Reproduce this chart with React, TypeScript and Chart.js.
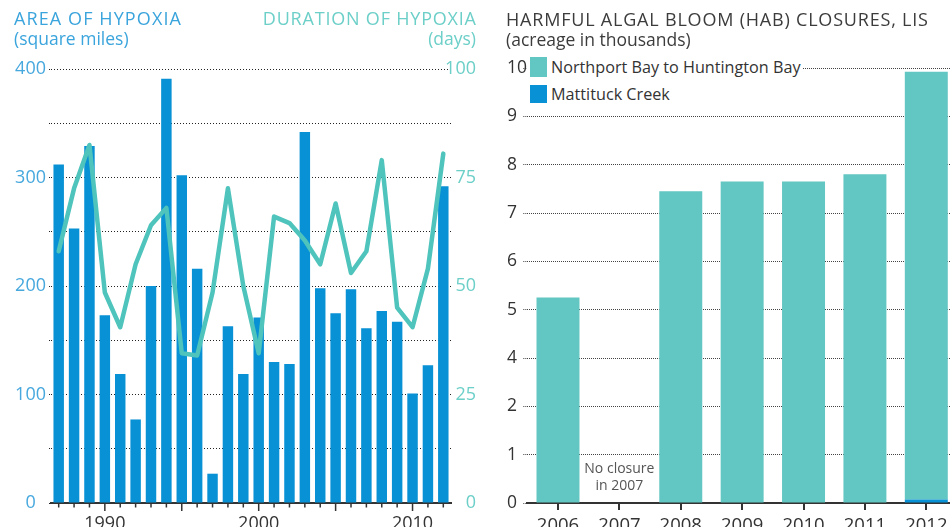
import React, { useEffect, useRef } from 'react';
import { Chart, registerables } from 'chart.js';

Chart.register(...registerables);

const FONT = '"Open Sans", sans-serif';

// ---- Left chart: hypoxia in Long Island Sound ----
const hypoxiaYears = [
  '1987', '1988', '1989', '1990', '1991', '1992', '1993', '1994', '1995', '1996',
  '1997', '1998', '1999', '2000', '2001', '2002', '2003', '2004', '2005', '2006',
  '2007', '2008', '2009', '2010', '2011', '2012',
];
// Area of hypoxia (square miles)
const hypoxiaArea = [
  312, 253, 329, 173, 119, 77, 200, 391, 302, 216,
  27, 163, 119, 171, 130, 128, 342, 198, 175, 197,
  161, 177, 167, 101, 127, 292,
];
// Duration of hypoxia (days)
const hypoxiaDuration = [
  58, 72.5, 82.5, 48.5, 40.5, 55, 64, 68, 34.5, 34,
  48.5, 72.5, 50, 34.5, 66, 64.5, 60.5, 55, 69, 53,
  58, 79, 45, 40.5, 54, 80.5,
];
const labelledYears = ['1990', '2000', '2010'];

// ---- Right chart: HAB closures (acreage in thousands) ----
const habYears = ['2006', '2007', '2008', '2009', '2010', '2011', '2012'];
const northportBay = [5.25, 0, 7.45, 7.65, 7.65, 7.8, 9.85];
const mattituckCreek = [0, 0, 0, 0, 0, 0, 0.07];
// tick labels as printed on the original axis (evenly spaced)
const habTickLabels = ['0', '1', '2', '4', '5', '6', '7', '8', '9', '10'];

const BLUE = '#0891d4';
const TEAL_LINE = '#4fc4bc';
const TEAL_BAR = '#62c6c2';
const AXIS_BLUE = '#47a8de';
const AXIS_TEAL = '#6ccfc8';
const DARK = '#333333';

// map a value in printed-label units to an evenly spaced axis position
const habTickNums = habTickLabels.map(Number);
function toAxisPos(v: number): number {
  for (let i = 0; i < habTickNums.length - 1; i++) {
    const a = habTickNums[i];
    const b = habTickNums[i + 1];
    if (v <= b) return i + (v - a) / (b - a);
  }
  return habTickNums.length - 1;
}

export default function App() {
  const leftRef = useRef<HTMLCanvasElement | null>(null);
  const rightRef = useRef<HTMLCanvasElement | null>(null);

  useEffect(() => {
    const tickPlugin = {
      id: 'yearTicks',
      afterDraw(chart: any) {
        const xs = chart.scales.x;
        const ctx = chart.ctx;
        const base = chart.chartArea.bottom;
        ctx.save();
        ctx.strokeStyle = DARK;
        ctx.lineWidth = 1.5;
        hypoxiaYears.forEach((yr, i) => {
          const x = xs.getPixelForTick(i);
          const len = Number(yr) % 5 === 0 ? 8 : 4.5;
          ctx.beginPath();
          ctx.moveTo(x, base);
          ctx.lineTo(x, base + len);
          ctx.stroke();
        });
        ctx.restore();
      },
    };

    const left = new Chart(leftRef.current as HTMLCanvasElement, {
      type: 'bar',
      data: {
        labels: hypoxiaYears,
        datasets: [
          {
            type: 'line',
            label: 'Duration of hypoxia (days)',
            data: hypoxiaDuration,
            yAxisID: 'y2',
            borderColor: TEAL_LINE,
            borderWidth: 4.5,
            pointRadius: 0,
            tension: 0,
            borderCapStyle: 'round',
            borderJoinStyle: 'round',
            order: 0,
          } as any,
          {
            type: 'bar',
            label: 'Area of hypoxia (square miles)',
            data: hypoxiaArea,
            yAxisID: 'y',
            backgroundColor: BLUE,
            categoryPercentage: 1,
            barPercentage: 0.68,
            order: 1,
          } as any,
        ],
      },
      options: {
        responsive: false,
        animation: false,
        devicePixelRatio: 1,
        layout: { padding: { top: 69, left: 0, right: 4, bottom: 0 } },
        plugins: { legend: { display: false }, tooltip: { enabled: false } },
        scales: {
          x: {
            grid: { display: false, drawTicks: false, tickLength: 0 },
            border: { display: true, color: DARK, width: 2 },
            ticks: {
              autoSkip: false,
              maxRotation: 0,
              padding: 10,
              color: DARK,
              font: { family: FONT, size: 18 },
              callback: (_v: any, i: number) =>
                labelledYears.includes(hypoxiaYears[i]) ? hypoxiaYears[i] : '',
            },
            afterFit: (s: any) => { s.height = 24; },
          },
          y: {
            position: 'left',
            min: 0,
            max: 400,
            ticks: {
              stepSize: 50,
              color: AXIS_BLUE,
              crossAlign: 'center',
              font: { family: FONT, size: 18 },
              callback: (v: any) => (Number(v) % 100 === 0 ? String(v) : ''),
            },
            grid: {
              color: '#222',
              lineWidth: 1,
              drawTicks: true,
              tickLength: 2,
              tickBorderDash: [1, 2],
              borderDash: [1, 2],
            } as any,
            border: { display: false, dash: [1, 2] },
            afterFit: (s: any) => { s.width = 51; },
          },
          y2: {
            position: 'right',
            min: 0,
            max: 100,
            ticks: {
              stepSize: 25,
              color: AXIS_TEAL,
              mirror: true,
              crossAlign: 'near',
              padding: 25,
              font: { family: FONT, size: 18 },
            },
            grid: { display: false, drawTicks: false },
            border: { display: false },
            afterFit: (s: any) => {
              s.width = 25;
              s.paddingTop = 0;
              s.paddingBottom = 0;
            },
          },
        },
      } as any,
      plugins: [tickPlugin],
    });

    const noClosurePlugin = {
      id: 'noClosure',
      afterDatasetsDraw(chart: any) {
        const xs = chart.scales.x;
        const ys = chart.scales.y;
        const ctx = chart.ctx;
        const x = xs.getPixelForValue(1);
        const y0 = ys.getPixelForValue(0);
        ctx.save();
        ctx.fillStyle = '#555';
        ctx.font = `14px ${FONT}`;
        ctx.textAlign = 'center';
        ctx.textBaseline = 'middle';
        ctx.fillText('No closure', x, y0 - 34);
        ctx.fillText('in 2007', x, y0 - 17);
        ctx.restore();
      },
    };

    const mattPos = mattituckCreek.map(toAxisPos);
    const northPos = northportBay.map((v, i) => toAxisPos(v + mattituckCreek[i]) - mattPos[i]);

    const right = new Chart(rightRef.current as HTMLCanvasElement, {
      type: 'bar',
      data: {
        labels: habYears,
        datasets: [
          {
            label: 'Mattituck Creek',
            data: mattPos,
            backgroundColor: BLUE,
            stack: 'hab',
            categoryPercentage: 1,
            barPercentage: 0.7,
          },
          {
            label: 'Northport Bay to Huntington Bay',
            data: northPos,
            backgroundColor: TEAL_BAR,
            stack: 'hab',
            categoryPercentage: 1,
            barPercentage: 0.7,
          },
        ],
      },
      options: {
        responsive: false,
        animation: false,
        devicePixelRatio: 1,
        layout: { padding: { top: 68, left: 27, right: 3, bottom: 0 } },
        plugins: { legend: { display: false }, tooltip: { enabled: false } },
        scales: {
          x: {
            stacked: true,
            grid: {
              display: true,
              offset: false,
              drawOnChartArea: false,
              drawTicks: true,
              tickLength: 7,
              color: DARK,
              lineWidth: 2,
            },
            border: { display: true, color: DARK, width: 2 },
            ticks: {
              padding: 5,
              color: DARK,
              maxRotation: 0,
              autoSkip: false,
              font: { family: FONT, size: 18.5 },
            },
            afterFit: (s: any) => { s.height = 24; },
          },
          y: {
            stacked: true,
            min: 0,
            max: habTickLabels.length - 1,
            ticks: {
              stepSize: 1,
              crossAlign: 'far',
              color: DARK,
              font: { family: FONT, size: 17.5 },
              callback: (v: any) => habTickLabels[Math.round(Number(v))] ?? '',
            },
            grid: {
              color: '#444',
              lineWidth: 1,
              tickLength: 4,
              tickBorderDash: [1, 1],
              borderDash: [1, 1],
            } as any,
            border: { display: false, dash: [1, 1] },
            afterFit: (s: any) => { s.width = 20.3; },
          },
        },
      } as any,
      plugins: [noClosurePlugin],
    });

    return () => {
      left.destroy();
      right.destroy();
    };
  }, []);

  const titleStyle: React.CSSProperties = {
    position: 'absolute',
    fontSize: 17.5,
    lineHeight: '20px',
    whiteSpace: 'nowrap',
  };
  const capsStyle: React.CSSProperties = { fontSize: 18, letterSpacing: 0.8 };

  return (
    <div
      style={{
        position: 'absolute',
        left: 0,
        top: 0,
        width: 950,
        height: 527,
        overflow: 'hidden',
        background: '#fff',
        fontFamily: FONT,
      }}
    >
      <canvas
        ref={leftRef}
        width={480}
        height={527}
        style={{ position: 'absolute', left: 0, top: 0, display: 'block' }}
      />
      <canvas
        ref={rightRef}
        width={480}
        height={527}
        style={{ position: 'absolute', left: 480, top: 0, display: 'block' }}
      />

      <div style={{ ...titleStyle, left: 14, top: 8, color: '#3aa4dc' }}>
        <span style={{ ...capsStyle, letterSpacing: 1.1 }}>AREA OF HYPOXIA</span>
        <br />
        (square miles)
      </div>
      <div
        style={{
          ...titleStyle,
          right: 950 - 476,
          top: 8,
          color: AXIS_TEAL,
          textAlign: 'right',
        }}
      >
        <span style={{ ...capsStyle, marginRight: -0.8 }}>DURATION OF HYPOXIA</span>
        <br />
        (days)
      </div>
      <div style={{ ...titleStyle, left: 506, top: 9, color: '#3c3c3c' }}>
        <span style={capsStyle}>HARMFUL ALGAL BLOOM (HAB) CLOSURES, LIS</span>
        <br />
        (acreage in thousands)
      </div>

      <div
        style={{
          position: 'absolute',
          left: 527,
          top: 55,
          width: 803 - 527,
          height: 50,
          background: '#fff',
          color: DARK,
          fontSize: 16.2,
          lineHeight: '20px',
        }}
      >
        <span style={{ position: 'absolute', left: 3, top: 2, width: 17, height: 20, background: TEAL_BAR }} />
        <span style={{ position: 'absolute', left: 24, top: 2, whiteSpace: 'nowrap' }}>
          Northport Bay to Huntington Bay
        </span>
        <span style={{ position: 'absolute', left: 3, top: 30, width: 17, height: 18, background: BLUE }} />
        <span style={{ position: 'absolute', left: 24, top: 29, whiteSpace: 'nowrap' }}>
          Mattituck Creek
        </span>
      </div>
    </div>
  );
}
